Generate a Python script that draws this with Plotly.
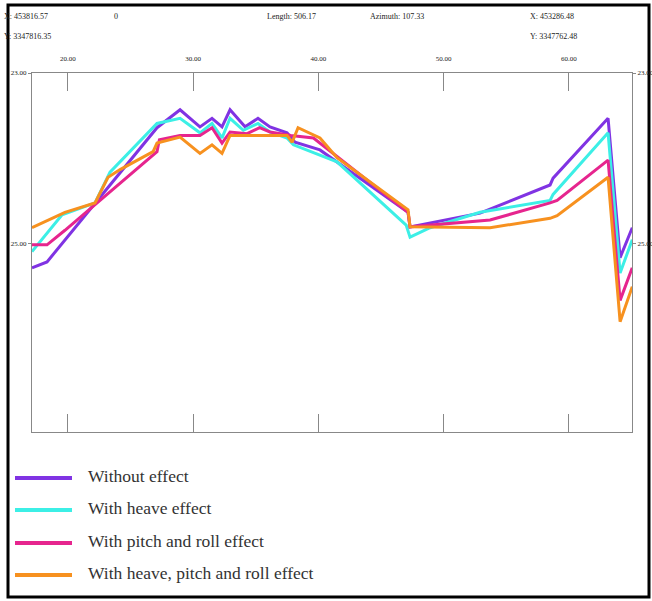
import plotly.graph_objects as go

# ---------------- data ----------------
series_names = ["Without effect", "With heave effect",
                "With pitch and roll effect", "With heave, pitch and roll effect"]
series_colors = ["#8033E3", "#3CEFE6", "#E6258E", "#F7911F"]

x_without = [17.13, 18.33, 27.11, 28.95, 30.54, 31.50, 32.30, 32.94, 34.14, 35.17, 36.13,
             37.49, 38.13, 40.12, 42.92, 47.15, 47.31, 52.90, 58.49, 58.73, 63.12, 64.08, 65.05]
y_without = [25.28, 25.21, 23.64, 23.43, 23.63, 23.53, 23.63, 23.43, 23.63, 23.53, 23.63,
             23.70, 23.81, 23.90, 24.19, 24.63, 24.80, 24.64, 24.31, 24.23, 23.53, 25.16, 24.81]

x_heave = [17.13, 19.53, 22.16, 23.36, 27.11, 28.95, 30.54, 31.50, 32.30, 32.94, 34.00, 35.17,
           36.13, 37.49, 38.00, 41.48, 47.00, 47.31, 48.91, 52.90, 58.49, 58.73, 63.12, 64.08, 65.05]
y_heave = [25.09, 24.66, 24.52, 24.16, 23.59, 23.53, 23.70, 23.59, 23.76, 23.53, 23.67, 23.59,
           23.69, 23.76, 23.84, 24.04, 24.78, 24.92, 24.81, 24.63, 24.49, 24.42, 23.70, 25.34, 24.95]

x_pitchroll = [17.13, 18.33, 19.76, 22.16, 27.11, 27.30, 28.95, 30.54, 31.50, 32.30, 32.94, 34.30,
               35.30, 36.13, 37.80, 39.60, 47.15, 47.31, 53.70, 58.49, 59.05, 63.12, 64.08, 65.05]
y_pitchroll = [25.01, 25.01, 24.84, 24.54, 23.92, 23.78, 23.73, 23.73, 23.64, 23.82, 23.69, 23.71,
               23.64, 23.69, 23.73, 23.76, 24.63, 24.80, 24.72, 24.52, 24.49, 24.02, 25.66, 25.28]

x_all = [17.13, 19.76, 22.16, 23.20, 24.16, 26.80, 27.11, 28.95, 30.54, 31.50, 32.30, 32.94,
         37.49, 37.90, 38.37, 40.12, 41.48, 47.15, 47.31, 53.70, 58.49, 59.05, 63.12, 64.08, 65.05]
y_all = [24.81, 24.63, 24.52, 24.22, 24.13, 23.92, 23.82, 23.75, 23.94, 23.84, 23.94, 23.73,
         23.73, 23.81, 23.64, 23.76, 23.99, 24.60, 24.80, 24.81, 24.70, 24.67, 24.22, 25.91, 25.50]

x_ticks = [20, 30, 40, 50, 60]
x_tick_labels = ["20.00", "30.00", "40.00", "50.00", "60.00"]
y_ticks = [23, 25]
y_tick_labels = ["23.00", "25.00"]

header_row1 = ["X: 453816.57", "0", "Length: 506.17", "Azimuth: 107.33", "X: 453286.48"]
header_row2 = ["Y: 3347816.35", "Y: 3347762.48"]

# ---------------- layout geometry ----------------
W, H = 652, 601
L, R, T, B = 32, 20, 73, 169
PW, PH = W - L - R, H - T - B


def px(xp):
    return (xp - L) / PW


def py(yp):
    return (H - B - yp) / PH


FONT = "Liberation Serif, Times New Roman, serif"

fig = go.Figure()
xs = [x_without, x_heave, x_pitchroll, x_all]
ys = [y_without, y_heave, y_pitchroll, y_all]
for name, color, xv, yv in zip(series_names, series_colors, xs, ys):
    fig.add_trace(go.Scatter(x=xv, y=yv, mode="lines", name=name,
                             line=dict(color=color, width=3), showlegend=False,
                             cliponaxis=False))

# invisible trace on right axis for mirrored labels
fig.add_trace(go.Scatter(x=[x_ticks[0]], y=[y_ticks[0]], yaxis="y2", mode="markers",
                         marker=dict(opacity=0), showlegend=False, hoverinfo="skip"))

annotations = []
shapes = []

# header text
row1_x = [2, 112, 265, 368, 528]
for t, xp in zip(header_row1, row1_x):
    annotations.append(dict(text=t, x=px(xp), y=py(17), xref="paper", yref="paper",
                            xanchor="left", yanchor="middle", showarrow=False,
                            font=dict(family=FONT, size=8, color="#222")))
row2_x = [2, 528]
for t, xp in zip(header_row2, row2_x):
    annotations.append(dict(text=t, x=px(xp), y=py(37), xref="paper", yref="paper",
                            xanchor="left", yanchor="middle", showarrow=False,
                            font=dict(family=FONT, size=8, color="#222")))

# manual legend
leg_y = [478, 510, 543, 575]
for name, color, yp in zip(series_names, series_colors, leg_y):
    shapes.append(dict(type="line", xref="paper", yref="paper",
                       x0=px(15), x1=px(72), y0=py(yp), y1=py(yp),
                       line=dict(color=color, width=4)))
    annotations.append(dict(text=name, x=px(86), y=py(yp - 2), xref="paper", yref="paper",
                            xanchor="left", yanchor="middle", showarrow=False,
                            font=dict(family=FONT, size=17.5, color="#333")))

# outer frame
shapes.append(dict(type="rect", xref="paper", yref="paper",
                   x0=px(8), x1=px(649), y0=py(597), y1=py(5),
                   line=dict(color="black", width=3), fillcolor="rgba(0,0,0,0)", layer="below"))

axis_common = dict(showgrid=False, zeroline=False, showline=True, linecolor="#888",
                   linewidth=1, automargin=False,
                   tickfont=dict(family=FONT, size=7, color="#222"))

fig.update_layout(
    width=W, height=H,
    margin=dict(l=L, r=R, t=T, b=B, pad=0, autoexpand=False),
    paper_bgcolor="white", plot_bgcolor="white",
    showlegend=False,
    font=dict(family=FONT),
    xaxis=dict(range=[17.13, 65.03], side="top", tickvals=x_ticks, ticktext=x_tick_labels,
               ticks="inside", ticklen=18, tickcolor="#888", mirror="ticks",
               ticklabelstandoff=8, **axis_common),
    yaxis=dict(range=[27.2, 23.0], tickvals=y_ticks, ticktext=y_tick_labels,
               ticks="outside", ticklen=3, tickcolor="#888", mirror=True,
               ticklabelstandoff=0, **axis_common),
    yaxis2=dict(range=[27.2, 23.0], tickvals=y_ticks, ticktext=y_tick_labels,
                overlaying="y", side="right", ticks="outside", ticklen=3, tickcolor="#888",
                **axis_common),
    annotations=annotations,
    shapes=shapes,
)

fig.write_html("out.html")
